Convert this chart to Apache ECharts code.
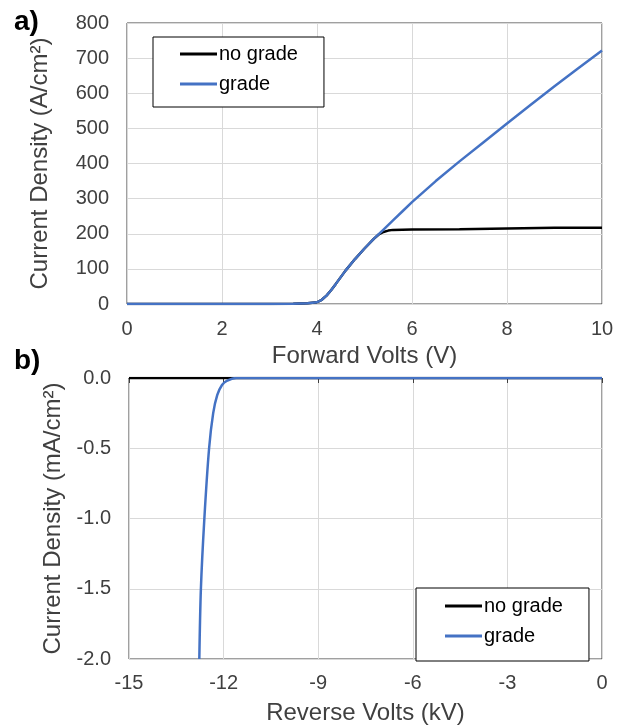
<!DOCTYPE html>
<html>
<head>
  <meta charset="utf-8">
  <title>Current Density</title>
  <script src="https://cdn.jsdelivr.net/npm/echarts@6/dist/echarts.min.js"></script>
  <style>
    html, body { margin: 0; padding: 0; background: #fff; }
    #main { width: 624px; height: 726px; }
  </style>
</head>
<body>
  <div id="main"></div>
  <script>
    // forward bias (V, A/cm2)
    var fwdGrade = [
      [0, 0], [1, 0], [2, 0], [3, 0], [3.5, 0.5], [3.8, 2], [4.0, 5], [4.1, 12], [4.2, 24],
      [4.3, 40], [4.4, 58], [4.6, 95], [4.8, 128], [5.0, 158], [5.2, 186], [5.4, 212],
      [5.6, 238], [5.8, 264], [6, 290], [6.5, 350], [7, 406], [7.5, 460], [8, 514], [8.5, 567],
      [9, 620], [9.5, 671], [10, 722]
    ];
    var fwdNoGrade = [
      [0, 0], [1, 0], [2, 0], [3, 0], [3.5, 0.5], [3.8, 2], [4.0, 5], [4.1, 12], [4.2, 24],
      [4.3, 40], [4.4, 58], [4.6, 95], [4.8, 128], [5.0, 158], [5.2, 186], [5.3, 198],
      [5.4, 205], [5.5, 209], [5.6, 211], [6, 212], [7, 213], [8, 215], [9, 217], [10, 217]
    ];
    // reverse bias (kV, mA/cm2)
    var revGrade = [
      [-12.77, -2.0], [-12.72, -1.5], [-12.61, -1.0], [-12.46, -0.5], [-12.33, -0.25],
      [-12.2, -0.12], [-12.05, -0.05], [-11.9, -0.02], [-11.6, 0], [-9, 0], [-6, 0], [-3, 0], [0, 0]
    ];
    var revNoGrade = [[-15, 0], [-12, 0], [-9, 0], [-6, 0], [-3, 0], [0, 0]];

    var names = ['no grade', 'grade'];
    var colors = ['#000000', '#4472C4'];

    var font = 'Liberation Sans, Arial, sans-serif';
    var gridLine = { show: true, lineStyle: { color: '#d9d9d9', width: 1 } };
    var tickLbl = { fontSize: 20, color: '#404040', fontFamily: font };
    var titleStyle = { fontSize: 24, color: '#404040', fontFamily: font };

    var myChart = echarts.init(document.getElementById('main'));

    function legendBox(left, top, padding) {
      return {
        orient: 'vertical',
        left: left,
        top: top,
        data: names,
        icon: 'rect',
        itemWidth: 37,
        itemHeight: 3,
        itemGap: 10,
        padding: padding,
        borderColor: '#000',
        borderWidth: 1,
        backgroundColor: '#fff',
        selectedMode: false,
        textStyle: { fontSize: 20, lineHeight: 20, color: '#000', fontFamily: font, padding: [0, 0, 0, -3] }
      };
    }

    function lineSeries(i, xi, data) {
      return {
        name: names[i],
        type: 'line',
        xAxisIndex: xi,
        yAxisIndex: xi,
        data: data,
        showSymbol: false,
        symbol: 'none',
        smooth: xi === 1 ? 0.3 : false,
        lineStyle: { color: colors[i], width: 2.5 },
        itemStyle: { color: colors[i] },
        animation: false
      };
    }

    var option = {
      backgroundColor: '#fff',
      animation: false,
      grid: [
        { left: 127, right: 22, top: 23, height: 281, show: true, borderColor: '#404040', borderWidth: 1 },
        { left: 129, right: 22, top: 378, height: 283, show: true, borderColor: '#404040', borderWidth: 1 }
      ],
      legend: [
        legendBox(153, 37, [7, 26, 13, 27]),
        legendBox(416, 588, [8, 26, 15, 29])
      ],
      xAxis: [
        {
          gridIndex: 0, type: 'value', min: 0, max: 10, interval: 2,
          name: 'Forward Volts (V)', nameLocation: 'middle', nameGap: 40, nameTextStyle: titleStyle,
          axisLine: { show: false }, axisTick: { show: false },
          axisLabel: Object.assign({ margin: 15 }, tickLbl),
          splitLine: gridLine
        },
        {
          gridIndex: 1, type: 'value', min: -15, max: 0, interval: 3,
          name: 'Reverse Volts (kV)', nameLocation: 'middle', nameGap: 42, nameTextStyle: titleStyle,
          axisLine: { show: true, lineStyle: { color: '#404040' } },
          axisTick: { show: true, length: 5, lineStyle: { color: '#404040' } },
          axisLabel: Object.assign({ margin: 14 }, tickLbl),
          splitLine: gridLine
        }
      ],
      yAxis: [
        {
          gridIndex: 0, type: 'value', min: 0, max: 800, interval: 100,
          name: 'Current Density (A/cm²)', nameLocation: 'middle', nameGap: 75, nameRotate: 90,
          nameTextStyle: titleStyle,
          axisLine: { show: false }, axisTick: { show: false },
          axisLabel: Object.assign({ margin: 18 }, tickLbl),
          splitLine: gridLine
        },
        {
          gridIndex: 1, type: 'value', min: -2, max: 0, interval: 0.5,
          name: 'Current Density (mA/cm²)', nameLocation: 'middle', nameGap: 62, nameRotate: 90,
          nameTextStyle: titleStyle,
          axisLine: { show: false }, axisTick: { show: false },
          axisLabel: Object.assign({ margin: 18, formatter: function (v) { return v.toFixed(1); } }, tickLbl),
          splitLine: gridLine
        }
      ],
      graphic: [
        { type: 'text', left: 14, top: 8, style: { text: 'a)', font: 'bold 28px ' + font, fill: '#000' } },
        { type: 'text', left: 14, top: 347, style: { text: 'b)', font: 'bold 28px ' + font, fill: '#000' } }
      ],
      series: [
        lineSeries(0, 0, fwdNoGrade),
        lineSeries(1, 0, fwdGrade),
        lineSeries(0, 1, revNoGrade),
        lineSeries(1, 1, revGrade)
      ]
    };

    myChart.setOption(option);
  </script>
</body>
</html>
